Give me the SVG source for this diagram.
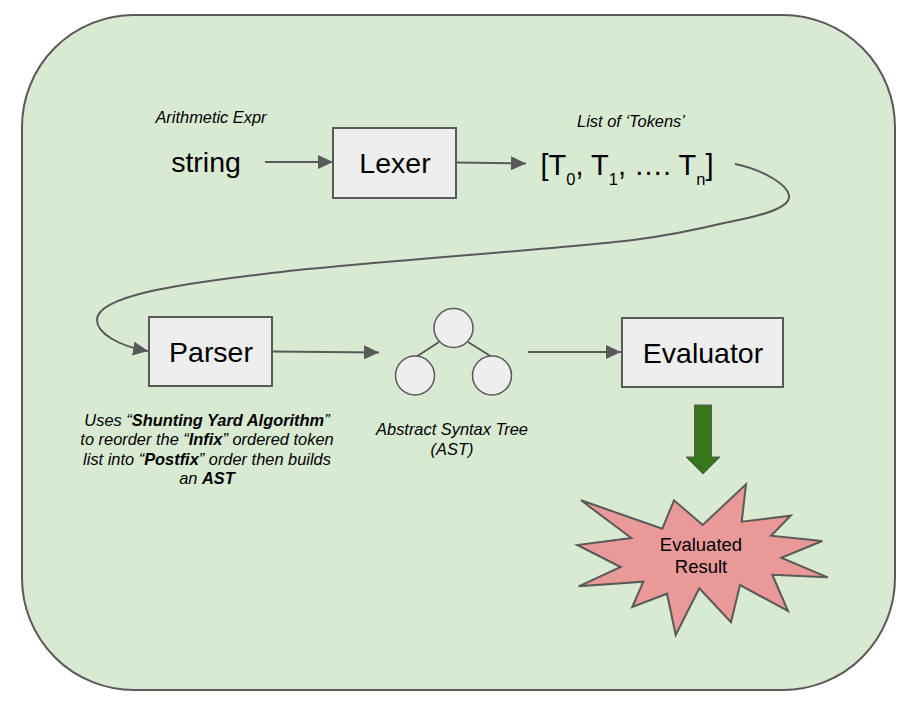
<svg xmlns="http://www.w3.org/2000/svg" width="921" height="711" viewBox="0 0 921 711">
<defs>
<style>
text{font-family:"Liberation Sans",Arial,sans-serif;fill:#000;text-anchor:middle}
.big{font-size:28.500px}
.tok{font-size:29px}
.it{font-size:16.400px;font-style:italic}
.sub{font-size:16.500px}
.box{fill:#eeeeee;stroke:#595959;stroke-width:2}
.conn{fill:none;stroke:#595959;stroke-width:2}
.circ{fill:#eeeeee;stroke:#595959;stroke-width:1.500}
</style>
<marker id="arrow" markerUnits="userSpaceOnUse" markerWidth="16" markerHeight="14" refX="15" refY="7" orient="auto">
<path d="M0 0L15 7L0 14Z" fill="#595959"/>
</marker>
</defs>
<g id="background"><rect x="22" y="15" width="873" height="675" rx="112" ry="112" fill="#d9ead3" stroke="#595959" stroke-width="2"/></g>
<g id="connectors">
<path class="conn" marker-end="url(#arrow)" d="M265 162H333"/>
<path class="conn" marker-end="url(#arrow)" d="M457 162.500L526 163.500"/>
<path class="conn" d="M735 164C760 169 789 184 789 197C789 208 762 216 724 223C695 230 665 236 633 240C560 249 350 263 271 273C210 281 97 292 97 320"/>
<path class="conn" marker-end="url(#arrow)" d="M97 320C97 333 118 346 148 351"/>
<path class="conn" marker-end="url(#arrow)" d="M273 351.500L379 352.500"/>
<path class="conn" marker-end="url(#arrow)" d="M528 352H621"/>
<path class="conn" d="M439 342L416 357M468 342L492 357" stroke-width="1.500"/>
</g>
<g id="string"><text class="big" x="206" y="172">string</text><text class="it" x="211" y="123">Arithmetic Expr</text></g>
<g id="lexer"><rect class="box" x="333" y="128" width="123" height="70"/><text class="big" x="395" y="173">Lexer</text></g>
<g id="tokens">
<text class="it" x="631" y="127">List of ‘Tokens’</text>
<text class="tok" x="627" y="175">[T<tspan class="sub" dy="10">0</tspan><tspan dy="-10">, T</tspan><tspan class="sub" dy="10">1</tspan><tspan dy="-10">, …. T</tspan><tspan class="sub" dy="10">n</tspan><tspan dy="-10">]</tspan></text>
</g>
<g id="parser">
<rect class="box" x="149" y="317" width="123" height="69"/><text class="big" x="211" y="362">Parser</text>
<text class="it"><tspan x="207" y="426">Uses “<tspan font-weight="bold">Shunting Yard Algorithm</tspan>”</tspan><tspan x="207" y="445">to reorder the “<tspan font-weight="bold">Infix</tspan>” ordered token</tspan><tspan x="207" y="465">list into “<tspan font-weight="bold">Postfix</tspan>” order then builds</tspan><tspan x="207" y="484">an <tspan font-weight="bold">AST</tspan></tspan></text>
</g>
<g id="ast">
<circle class="circ" cx="453.500" cy="328" r="19.500"/><circle class="circ" cx="415" cy="375.500" r="19.500"/><circle class="circ" cx="492" cy="375.500" r="19.500"/>
<text class="it"><tspan x="452" y="435">Abstract Syntax Tree</tspan><tspan x="452" y="455">(AST)</tspan></text>
</g>
<g id="evaluator"><rect class="box" x="622" y="318" width="161" height="69"/><text class="big" x="703" y="363">Evaluator</text></g>
<g id="down-arrow"><path d="M694.500 405H711.500V457H720L703 474L686 457H694.500Z" fill="#38761d" stroke="#595959" stroke-width="1"/></g>
<g id="result">
<polygon points="581,500.300 662.300,528.700 674,500.300 702.700,525 746,484.300 741.700,521.700 790.700,515.700 771,535.700 822.300,541 781.300,557.700 827.700,577.300 772.300,574.700 788,611 740,585 731,622.300 699.300,588.300 675.700,635 667,593.700 632.300,607 643.300,581.700 578.700,586.300 620.700,567 577.300,545 631.300,538" fill="#ea9999" stroke="#595959" stroke-width="2"/>
<text font-size="18.500"><tspan x="701" y="551">Evaluated</tspan><tspan x="701" y="573">Result</tspan></text>
</g>
</svg>
